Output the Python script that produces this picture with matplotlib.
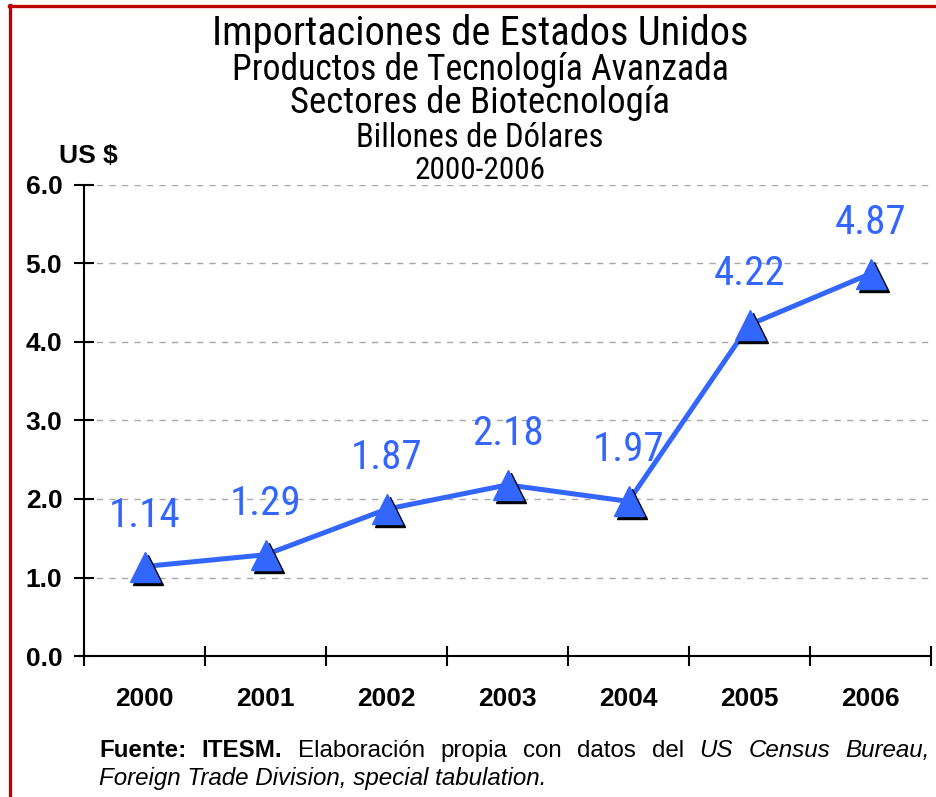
import matplotlib
matplotlib.use("Agg")
import matplotlib.pyplot as plt
from matplotlib.lines import Line2D
from matplotlib.transforms import offset_copy

# datos
anios = ["2000", "2001", "2002", "2003", "2004", "2005", "2006"]
valores = [1.14, 1.29, 1.87, 2.18, 1.97, 4.22, 4.87]
marcas_y = [0.0, 1.0, 2.0, 3.0, 4.0, 5.0, 6.0]
titulos = [
    "Importaciones de Estados Unidos",
    "Productos de Tecnología Avanzada",
    "Sectores de Biotecnología",
    "Billones de Dólares",
    "2000-2006",
]
fuente_l1 = [("Fuente:", "bold", "normal"), ("ITESM.", "bold", "normal"),
             ("Elaboración", "normal", "normal"), ("propia", "normal", "normal"),
             ("con", "normal", "normal"), ("datos", "normal", "normal"),
             ("del", "normal", "normal"), ("US", "normal", "italic"),
             ("Census", "normal", "italic"), ("Bureau,", "normal", "italic")]
fuente_l2 = "Foreign Trade Division, special tabulation."

AZUL = "#3366FF"
ROJO = "#C00000"
ESTRECHA = ["Roboto Condensed", "Roboto", "DejaVu Sans"]
ARIAL = ["Liberation Sans", "DejaVu Sans"]

W, H = 936, 797
fig = plt.figure(figsize=(W / 100, H / 100), dpi=100)
ax = fig.add_axes([84 / W, 141 / H, 847 / W, 471 / H])

x = list(range(len(anios)))
sombra = offset_copy(ax.transData, fig=fig, x=3, y=-3, units="dots")
ax.plot(x, valores, color=AZUL, lw=3.6, zorder=3, solid_capstyle="round")
ax.plot(x, valores, linestyle="none", marker="^", ms=21, color="black",
        transform=sombra, zorder=4)
ax.plot(x, valores, linestyle="none", marker="^", ms=21, color=AZUL, zorder=5)

for xi, v in zip(x, valores):
    ax.annotate(f"{v:.2f}", (xi, v), xytext=(0, 37), textcoords="offset points",
                ha="center", va="center", fontsize=29.5, color=AZUL, family=ESTRECHA)

ax.set_xlim(-0.5, len(anios) - 0.5)
ax.set_ylim(0, 6)
ax.set_xticks([i - 0.5 for i in range(len(anios) + 1)])
ax.set_xticklabels([])
ax.set_xticks(x, minor=True)
ax.set_xticklabels(anios, minor=True, fontsize=19, fontweight="bold", family=ARIAL)
ax.tick_params(axis="x", which="major", direction="inout", length=14, width=1.5)
ax.tick_params(axis="x", which="minor", length=0, pad=22)
ax.set_yticks(marcas_y)
ax.set_yticklabels([f"{v:.1f}" for v in marcas_y], fontsize=19, fontweight="bold",
                   family=ARIAL)
ax.tick_params(axis="y", direction="inout", length=14, width=1.5, pad=8.6)
ax.yaxis.grid(True, linestyle=(0, (4.5, 4.5)), color="#A8A8A8", lw=1)
ax.set_axisbelow(True)
for s in ["top", "right"]:
    ax.spines[s].set_visible(False)
for s in ["left", "bottom"]:
    ax.spines[s].set_linewidth(1.5)

# titulos
tam = [29.2, 25.7, 26.5, 23.5, 22.5]
bases = [45, 80, 113, 147, 179]
for t, fs, b in zip(titulos, tam, bases):
    fig.text(480 / W, 1 - b / H, t, ha="center", va="baseline", fontsize=fs,
             family=ESTRECHA)

fig.text(88 / W, 1 - 163 / H, "US $", ha="center", va="baseline", fontsize=19,
         fontweight="bold", family=ARIAL)

# fuente, primera linea justificada
renderer = fig.canvas.get_renderer()
textos = [fig.text(0, 1 - 757 / H, p, fontsize=17.4, fontweight=w, style=s,
                   family=ARIAL, va="baseline") for p, w, s in fuente_l1]
anchos = [t.get_window_extent(renderer).width for t in textos]
x0, x1 = 99, 930
hueco = ((x1 - x0) - sum(anchos)) / (len(textos) - 1)
pos = x0
for t, a in zip(textos, anchos):
    t.set_x(pos / W)
    pos += a + hueco
fig.text(x0 / W, 1 - 785 / H, fuente_l2, fontsize=17.4, style="italic",
         family=ARIAL, va="baseline")

# marco rojo
fig.add_artist(Line2D([9 / W, 1], [1 - 5.5 / H, 1 - 5.5 / H], color=ROJO, lw=2.4))
fig.add_artist(Line2D([9.5 / W, 9.5 / W], [0, 1 - 4.5 / H], color=ROJO, lw=2.4))

fig.savefig("out.png", dpi=100)
